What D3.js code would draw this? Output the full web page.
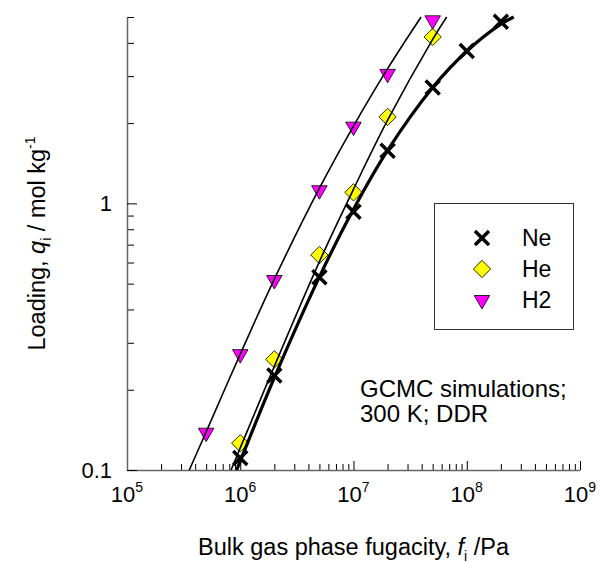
<!DOCTYPE html>
<html>
<head>
<meta charset="utf-8">
<script src="https://cdn.jsdelivr.net/npm/d3@7"></script>
<style>
    body { margin: 0; background: #fff; }
    text { font-family: Arial, "Liberation Sans", sans-serif; fill: #000; }
</style>
</head>
<body>
<script>
// GCMC points, fugacity in Pa, loading in mol/kg
const neF = [1e6, 2e6, 5e6, 1e7, 2e7, 5e7, 1e8, 2e8];
const neQ = [0.111, 0.226, 0.528, 0.93, 1.574, 2.72, 3.73, 4.8];
const heF = [1e6, 2e6, 5e6, 1e7, 2e7, 5e7];
const heQ = [0.126, 0.26, 0.64, 1.1, 2.11, 4.21];
const h2F = [5e5, 1e6, 2e6, 5e6, 1e7, 2e7, 5e7];
const h2Q = [0.138, 0.272, 0.516, 1.12, 1.94, 3.06, 4.86];

// fitted curves
const neCurveF = [9.3e5, 1e6, 2e6, 5e6, 1e7, 2e7, 5e7, 1e8, 2e8, 2.6e8];
const neCurveQ = [0.1, 0.108, 0.222, 0.53, 0.95, 1.58, 2.72, 3.72, 4.7, 5.0];
const heCurveF = [8.3e5, 1e6, 2e6, 5e6, 1e7, 2e7, 5e7, 6.65e7];
const heCurveQ = [0.1, 0.121, 0.245, 0.605, 1.13, 2.05, 4.12, 5.0];
const h2CurveF = [3.55e5, 5e5, 1e6, 2e6, 5e6, 1e7, 2e7, 3.95e7];
const h2CurveQ = [0.1, 0.139, 0.272, 0.52, 1.14, 1.95, 3.2, 5.0];

const xMajor = [1e5, 1e6, 1e7, 1e8, 1e9];
const xExp = ["5", "6", "7", "8", "9"];
const yMajor = [0.1, 1];
const yLabels = ["0.1", "1"];
const legendNames = ["Ne", "He", "H2"];

const w = 601, h = 563;
const pLeft = 127, pRight = 580, pTop = 17, pBottom = 470;

const svg = d3.select("body").append("svg")
    .attr("width", w)
    .attr("height", h);

const x = d3.scaleLog().domain([1e5, 1e9]).range([pLeft, pRight]);
const y = d3.scaleLog().domain([0.1, 5]).range([pBottom, pTop]);

// minor ticks for each decade
let xMinor = [];
for (let d = 1e5; d < 1e9; d *= 10) {
    for (let k = 2; k <= 9; k++) xMinor.push(d * k);
}
let yMinor = [0.2, 0.3, 0.4, 0.5, 0.6, 0.7, 0.8, 0.9, 2, 3, 4, 5];

// x axis
svg.append("g")
    .attr("transform", "translate(0," + pBottom + ")")
    .call(d3.axisBottom(x).tickValues(xMinor).tickSizeInner(-6).tickSizeOuter(0).tickFormat(""))
    .call(g => g.select(".domain").remove());
svg.append("g")
    .attr("id", "x-axis")
    .attr("transform", "translate(0," + pBottom + ")")
    .call(d3.axisBottom(x).tickValues(xMajor).tickSizeInner(-9).tickSizeOuter(0).tickFormat(""))
    .call(g => g.select(".domain").attr("stroke", "#666").attr("stroke-width", 1.5));

// y axis
svg.append("g")
    .attr("transform", "translate(" + pLeft + ",0)")
    .call(d3.axisLeft(y).tickValues(yMinor).tickSizeInner(-7).tickSizeOuter(0).tickFormat(""))
    .call(g => g.select(".domain").remove());
svg.append("g")
    .attr("id", "y-axis")
    .attr("transform", "translate(" + pLeft + ",0)")
    .call(d3.axisLeft(y).tickValues(yMajor).tickSizeInner(-10).tickSizeOuter(0).tickFormat(""))
    .call(g => g.select(".domain").attr("stroke", "#666").attr("stroke-width", 1.5));

// tick labels
const xl = svg.append("g").selectAll("text")
    .data(xMajor)
    .enter()
    .append("text")
    .attr("x", d => x(d))
    .attr("y", 502)
    .attr("text-anchor", "middle")
    .style("font-size", "22px");
xl.append("tspan").text("10");
xl.append("tspan").attr("dy", -10).style("font-size", "14px").text((d, i) => xExp[i]);

svg.append("g").selectAll("text")
    .data(yMajor)
    .enter()
    .append("text")
    .attr("x", 112)
    .attr("y", d => y(d) + 8)
    .attr("text-anchor", "end")
    .style("font-size", "22px")
    .text((d, i) => yLabels[i]);

// axis titles
const xt = svg.append("text")
    .attr("x", (pLeft + pRight) / 2)
    .attr("y", 555)
    .attr("text-anchor", "middle")
    .style("font-size", "23.5px");
xt.append("tspan").text("Bulk gas phase fugacity, ");
xt.append("tspan").style("font-style", "italic").text("f");
xt.append("tspan").attr("dy", 6).style("font-size", "14px").text("i");
xt.append("tspan").attr("dy", -6).text(" /Pa");

const yt = svg.append("text")
    .attr("transform", "translate(45," + ((pTop + pBottom) / 2) + ") rotate(-90)")
    .attr("text-anchor", "middle")
    .style("font-size", "23.5px");
yt.append("tspan").text("Loading, ");
yt.append("tspan").style("font-style", "italic").text("q");
yt.append("tspan").attr("dy", 6).style("font-size", "14px").text("i");
yt.append("tspan").attr("dy", -6).text(" / mol kg");
yt.append("tspan").attr("dy", -10).style("font-size", "14px").text("-1");

// symbols
const crossPath = d3.symbol().type(d3.symbolX).size(130)();
const diamondPath = d3.symbol().type(d3.symbolSquare).size(150)();
const triPath = d3.symbol().type(d3.symbolTriangle).size(105)();

function drawCross(g, px, py) {
    g.append("path").attr("d", crossPath)
        .attr("transform", "translate(" + px + "," + py + ")")
        .attr("fill", "none").attr("stroke", "#000").attr("stroke-width", 3.5);
}
function drawDiamond(g, px, py) {
    g.append("path").attr("d", diamondPath)
        .attr("transform", "translate(" + px + "," + py + ") rotate(45)")
        .attr("fill", "#ffff00").attr("stroke", "#000").attr("stroke-width", 0.8);
}
function drawTri(g, px, py) {
    g.append("path").attr("d", triPath)
        .attr("transform", "translate(" + px + "," + py + ") rotate(180)")
        .attr("fill", "#ff00ff").attr("stroke", "#000").attr("stroke-width", 0.8);
}

const marks = svg.append("g");
neF.forEach((f, i) => drawCross(marks, x(f), y(neQ[i])));
heF.forEach((f, i) => drawDiamond(marks, x(f), y(heQ[i])));
h2F.forEach((f, i) => drawTri(marks, x(f), y(h2Q[i])));

// fitted lines
const line = d3.line()
    .x(d => x(d[0]))
    .y(d => y(d[1]))
    .curve(d3.curveCatmullRom.alpha(0.5));

const curves = [
    { f: neCurveF, q: neCurveQ, width: 3.2 },
    { f: heCurveF, q: heCurveQ, width: 1.6 },
    { f: h2CurveF, q: h2CurveQ, width: 1.6 }
];
curves.forEach(c => {
    svg.append("path")
        .datum(c.f.map((f, i) => [f, c.q[i]]))
        .attr("d", line)
        .attr("fill", "none")
        .attr("stroke", "#000")
        .attr("stroke-width", c.width);
});

// legend
svg.append("rect")
    .attr("x", 434.5).attr("y", 203.5)
    .attr("width", 139).attr("height", 126)
    .attr("fill", "#fff").attr("stroke", "#333").attr("stroke-width", 1);
const legendY = [238, 269, 300];
const lg = svg.append("g");
drawCross(lg, 482, legendY[0]);
drawDiamond(lg, 482, legendY[1]);
drawTri(lg, 482, legendY[2]);
lg.selectAll("text")
    .data(legendNames)
    .enter()
    .append("text")
    .attr("x", 522)
    .attr("y", (d, i) => legendY[i] + 8)
    .style("font-size", "23px")
    .text(d => d);

// note
svg.append("text").attr("x", 360).attr("y", 397).style("font-size", "24px").text("GCMC simulations;");
svg.append("text").attr("x", 360).attr("y", 422).style("font-size", "24px").text("300 K; DDR");
</script>
</body>
</html>
